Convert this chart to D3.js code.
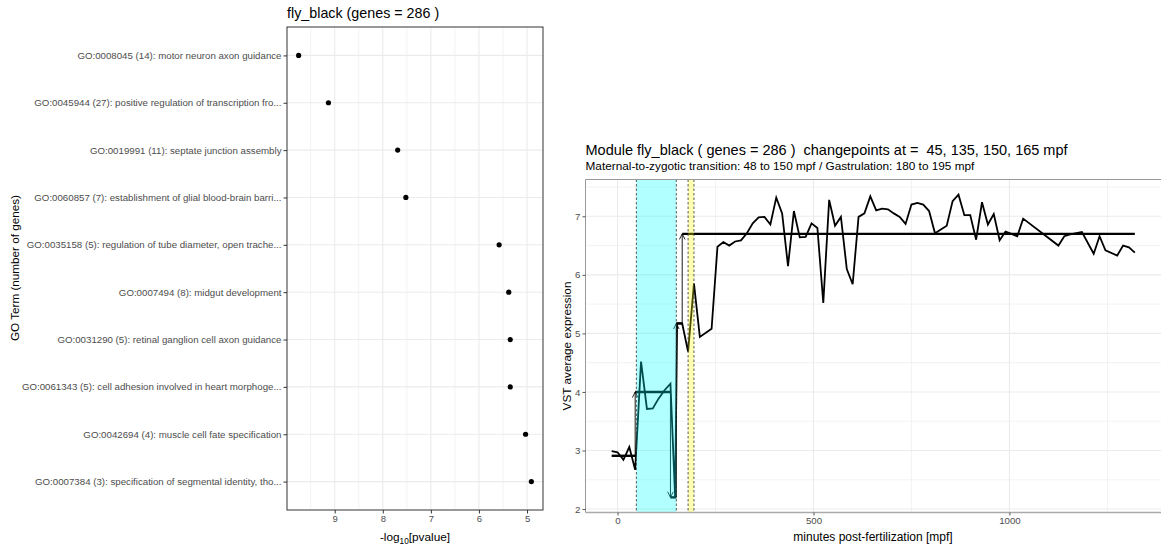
<!DOCTYPE html>
<html>
<head>
<meta charset="utf-8">
<style>
  body { margin: 0; background: #fff; }
  svg { font-family: "Liberation Sans", Arial, sans-serif; }
  .tick text { fill: #4d4d4d; }
</style>
</head>
<body>
<svg id="chart" width="1161" height="545"></svg>
<script src="https://cdn.jsdelivr.net/npm/d3@7"></script>
<script>
// ---- data: GO enrichment (left) ----
const goTerms = [
  "GO:0008045 (14): motor neuron axon guidance",
  "GO:0045944 (27): positive regulation of transcription fro...",
  "GO:0019991 (11): septate junction assembly",
  "GO:0060857 (7): establishment of glial blood-brain barri...",
  "GO:0035158 (5): regulation of tube diameter, open trache...",
  "GO:0007494 (8): midgut development",
  "GO:0031290 (5): retinal ganglion cell axon guidance",
  "GO:0061343 (5): cell adhesion involved in heart morphoge...",
  "GO:0042694 (4): muscle cell fate specification",
  "GO:0007384 (3): specification of segmental identity, tho..."
]
const goLogP = [9.75, 9.13, 7.69, 7.52, 5.58, 5.38, 5.35, 5.35, 5.03, 4.91]
const goTicks = [9, 8, 7, 6, 5]

// ---- data: module expression (right) ----
const timeMpf = [-15, 0, 15, 30, 45, 60, 75, 90, 105, 120, 135, 147, 152, 165, 180, 195, 210,
  240, 255, 270, 285, 300, 315, 330, 345, 360, 375, 390, 405, 420, 435, 450, 465, 480, 495,
  510, 525, 540, 555, 570, 585, 600, 615, 630, 645, 660, 675, 690, 705, 720, 735, 750, 765,
  780, 795, 810, 840, 855, 870, 885, 900, 915, 930, 945, 960, 975, 990, 1005, 1020, 1035,
  1125, 1140, 1155, 1185, 1215, 1230, 1245, 1275, 1290, 1305, 1320]
const vstExpr = [2.99, 2.97, 2.84, 3.06, 2.67, 4.52, 3.71, 3.72, 3.89, 4.03, 4.14, 2.2, 5.17, 5.17, 4.69, 5.85, 4.94,
  5.08, 6.48, 6.56, 6.50, 6.57, 6.59, 6.71, 6.88, 6.98, 6.99, 6.86, 7.32, 7.05, 6.15, 7.09, 6.64, 6.65, 6.88,
  6.80, 5.52, 7.28, 6.84, 6.99, 6.10, 5.84, 6.99, 7.05, 7.34, 7.10, 7.13, 7.12, 7.05, 6.99, 6.87, 7.20, 7.23,
  7.20, 7.09, 6.71, 6.84, 7.26, 7.37, 7.02, 7.02, 6.60, 7.24, 6.86, 7.04, 6.59, 6.74, 6.70, 6.66, 6.96,
  6.50, 6.66, 6.69, 6.73, 6.36, 6.66, 6.42, 6.33, 6.50, 6.47, 6.38]
const cpStart = [-15, 45, 135, 150, 165]
const cpEnd   = [45, 135, 150, 165, 1320]
const cpLevel = [2.91, 4.0, 2.2, 5.17, 6.7]
const mztRange = [48, 150]
const gastRange = [180, 195]
const timeTicks = [0, 500, 1000]
const exprTicks = [2, 3, 4, 5, 6, 7]

const svg = d3.select("#chart")
const grid = "#ebebeb"

// expand like ggplot (5% each side)
function expand(ext) {
  const r = ext[1] - ext[0]
  return [ext[0] - 0.05 * r, ext[1] + 0.05 * r]
}

// ================= LEFT PANEL =================
const L = {left: 287, right: 543, top: 27, bottom: 510}
const lx = d3.scaleLinear().domain(expand(d3.extent(goLogP)).reverse()).range([L.left, L.right])
const ly = d3.scalePoint().domain(goTerms).range([L.top, L.bottom]).padding(0.6)
const left = svg.append("g")

// minor grid
const lxMinor = d3.range(5.5, 10, 1)
left.selectAll(".lminor").data(lxMinor).join("line")
  .attr("x1", d => lx(d)).attr("x2", d => lx(d))
  .attr("y1", L.top).attr("y2", L.bottom)
  .attr("stroke", grid).attr("stroke-width", 0.6)
left.selectAll(".lmajx").data(goTicks).join("line")
  .attr("x1", d => lx(d)).attr("x2", d => lx(d))
  .attr("y1", L.top).attr("y2", L.bottom)
  .attr("stroke", grid).attr("stroke-width", 1.1)
left.selectAll(".lmajy").data(goTerms).join("line")
  .attr("x1", L.left).attr("x2", L.right)
  .attr("y1", d => ly(d)).attr("y2", d => ly(d))
  .attr("stroke", grid).attr("stroke-width", 1.1)

left.selectAll("circle").data(goTerms).join("circle")
  .attr("cx", (d, i) => lx(goLogP[i]))
  .attr("cy", d => ly(d))
  .attr("r", 2.6)
  .attr("fill", "#000")

left.append("rect")
  .attr("x", L.left).attr("y", L.top)
  .attr("width", L.right - L.left).attr("height", L.bottom - L.top)
  .attr("fill", "none").attr("stroke", "#333").attr("stroke-width", 1)

const lyAxis = left.append("g").attr("transform", `translate(${L.left},0)`)
  .call(d3.axisLeft(ly).tickSize(3.5).tickPadding(2))
lyAxis.select(".domain").remove()
lyAxis.selectAll("line").attr("stroke", "#333")
lyAxis.selectAll("text").attr("font-size", 9.7)

const lxAxis = left.append("g").attr("transform", `translate(0,${L.bottom})`)
  .call(d3.axisBottom(lx).tickValues(goTicks).tickFormat(d3.format("d")).tickSize(3.5).tickPadding(2))
lxAxis.select(".domain").remove()
lxAxis.selectAll("line").attr("stroke", "#333")
lxAxis.selectAll("text").attr("font-size", 9.5)

left.append("text").attr("x", L.left).attr("y", 18)
  .attr("font-size", 14.3).text("fly_black (genes = 286 )")

const lxt = left.append("text").attr("x", (L.left + L.right) / 2).attr("y", 541)
  .attr("text-anchor", "middle").attr("font-size", 11.8)
lxt.append("tspan").text("-log")
lxt.append("tspan").attr("font-size", 8.2).attr("dy", 3).text("10")
lxt.append("tspan").attr("dy", -3).text("[pvalue]")

left.append("text")
  .attr("transform", `translate(19,268) rotate(-90)`)
  .attr("text-anchor", "middle").attr("font-size", 11.7)
  .text("GO Term (number of genes)")

// ================= RIGHT PANEL =================
const R = {left: 585.5, right: 1161, top: 179.5, bottom: 512.5}
const rx = d3.scaleLinear().domain(expand(d3.extent(timeMpf))).range([R.left, R.right])
const ry = d3.scaleLinear().domain(expand(d3.extent(vstExpr))).range([R.bottom, R.top])
const right = svg.append("g")

right.append("defs").append("marker")
  .attr("id", "arr").attr("viewBox", "0 0 10 10")
  .attr("refX", 9).attr("refY", 5)
  .attr("markerWidth", 7).attr("markerHeight", 7)
  .attr("markerUnits", "userSpaceOnUse")
  .attr("orient", "auto")
  .append("path").attr("d", "M1,1 L9,5 L1,9")
  .attr("fill", "none").attr("stroke", "#000").attr("stroke-width", 1.2)

const rxMinor = [-250, 250, 750, 1250]
const ryMinor = d3.range(2.5, 8, 1)
right.selectAll(".rminx").data(rxMinor.filter(d => rx(d) >= R.left)).join("line")
  .attr("x1", d => rx(d)).attr("x2", d => rx(d))
  .attr("y1", R.top).attr("y2", R.bottom)
  .attr("stroke", grid).attr("stroke-width", 0.6)
right.selectAll(".rminy").data(ryMinor.filter(d => ry(d) >= R.top)).join("line")
  .attr("x1", R.left).attr("x2", R.right)
  .attr("y1", d => ry(d)).attr("y2", d => ry(d))
  .attr("stroke", grid).attr("stroke-width", 0.6)
right.selectAll(".rmajx").data(timeTicks).join("line")
  .attr("x1", d => rx(d)).attr("x2", d => rx(d))
  .attr("y1", R.top).attr("y2", R.bottom)
  .attr("stroke", grid).attr("stroke-width", 1.1)
right.selectAll(".rmajy").data(exprTicks).join("line")
  .attr("x1", R.left).attr("x2", R.right)
  .attr("y1", d => ry(d)).attr("y2", d => ry(d))
  .attr("stroke", grid).attr("stroke-width", 1.1)

// expression line
const pts = timeMpf.map((t, i) => [t, vstExpr[i]])
right.append("path").datum(pts)
  .attr("d", d3.line().x(d => rx(d[0])).y(d => ry(d[1])))
  .attr("fill", "none").attr("stroke", "#000").attr("stroke-width", 1.8)
  .attr("stroke-linejoin", "miter")

// changepoint segments
right.selectAll(".cpseg").data(cpLevel).join("line")
  .attr("x1", (d, i) => rx(cpStart[i])).attr("x2", (d, i) => rx(cpEnd[i]))
  .attr("y1", d => ry(d)).attr("y2", d => ry(d))
  .attr("stroke", "#000").attr("stroke-width", 2.4)

// arrows at changepoints
right.selectAll(".cparr").data(cpLevel.slice(1)).join("line")
  .attr("x1", (d, i) => rx(cpStart[i + 1])).attr("x2", (d, i) => rx(cpStart[i + 1]))
  .attr("y1", (d, i) => ry(cpLevel[i])).attr("y2", d => ry(d))
  .attr("stroke", "#000").attr("stroke-width", 0.9)
  .attr("marker-end", "url(#arr)")

// shaded developmental windows
right.append("rect")
  .attr("x", rx(mztRange[0])).attr("width", rx(mztRange[1]) - rx(mztRange[0]))
  .attr("y", R.top).attr("height", R.bottom - R.top)
  .attr("fill", "cyan").attr("fill-opacity", 0.3)
right.append("rect")
  .attr("x", rx(gastRange[0])).attr("width", rx(gastRange[1]) - rx(gastRange[0]))
  .attr("y", R.top).attr("height", R.bottom - R.top)
  .attr("fill", "yellow").attr("fill-opacity", 0.3)
right.selectAll(".vl").data(mztRange.concat(gastRange)).join("line")
  .attr("x1", d => rx(d)).attr("x2", d => rx(d))
  .attr("y1", R.top).attr("y2", R.bottom)
  .attr("stroke", "#333").attr("stroke-width", 0.8)
  .attr("stroke-dasharray", "2.5,2")

right.append("line").attr("x1", R.left).attr("x2", R.right)
  .attr("y1", R.top).attr("y2", R.top).attr("stroke", "#999").attr("stroke-width", 1)
right.append("line").attr("x1", R.left).attr("x2", R.left)
  .attr("y1", R.top).attr("y2", R.bottom).attr("stroke", "#999").attr("stroke-width", 1)
right.append("line").attr("x1", R.left).attr("x2", R.right)
  .attr("y1", R.bottom).attr("y2", R.bottom).attr("stroke", "#aaa").attr("stroke-width", 1.6)

const ryAxis = right.append("g").attr("transform", `translate(${R.left},0)`)
  .call(d3.axisLeft(ry).tickValues(exprTicks).tickFormat(d3.format("d")).tickSize(3).tickPadding(2))
ryAxis.select(".domain").remove()
ryAxis.selectAll("line").attr("stroke", "#555")
ryAxis.selectAll("text").attr("font-size", 9.7)

const rxAxis = right.append("g").attr("transform", `translate(0,${R.bottom})`)
  .call(d3.axisBottom(rx).tickValues(timeTicks).tickFormat(d3.format("d")).tickSize(3).tickPadding(2))
rxAxis.select(".domain").remove()
rxAxis.selectAll("line").attr("stroke", "#555")
rxAxis.selectAll("text").attr("font-size", 9.7)

right.append("text").attr("x", R.left).attr("y", 155)
  .attr("font-size", 14.5).style("white-space", "pre")
  .text("Module fly_black ( genes = 286 )  changepoints at =  45, 135, 150, 165 mpf")
right.append("text").attr("x", R.left).attr("y", 170)
  .attr("font-size", 11.8)
  .text("Maternal-to-zygotic transition: 48 to 150 mpf / Gastrulation: 180 to 195 mpf")

right.append("text").attr("x", 873).attr("y", 541)
  .attr("text-anchor", "middle").attr("font-size", 12)
  .text("minutes post-fertilization [mpf]")
right.append("text")
  .attr("transform", `translate(571,346) rotate(-90)`)
  .attr("text-anchor", "middle").attr("font-size", 11.8)
  .text("VST average expression")
</script>
</body>
</html>
